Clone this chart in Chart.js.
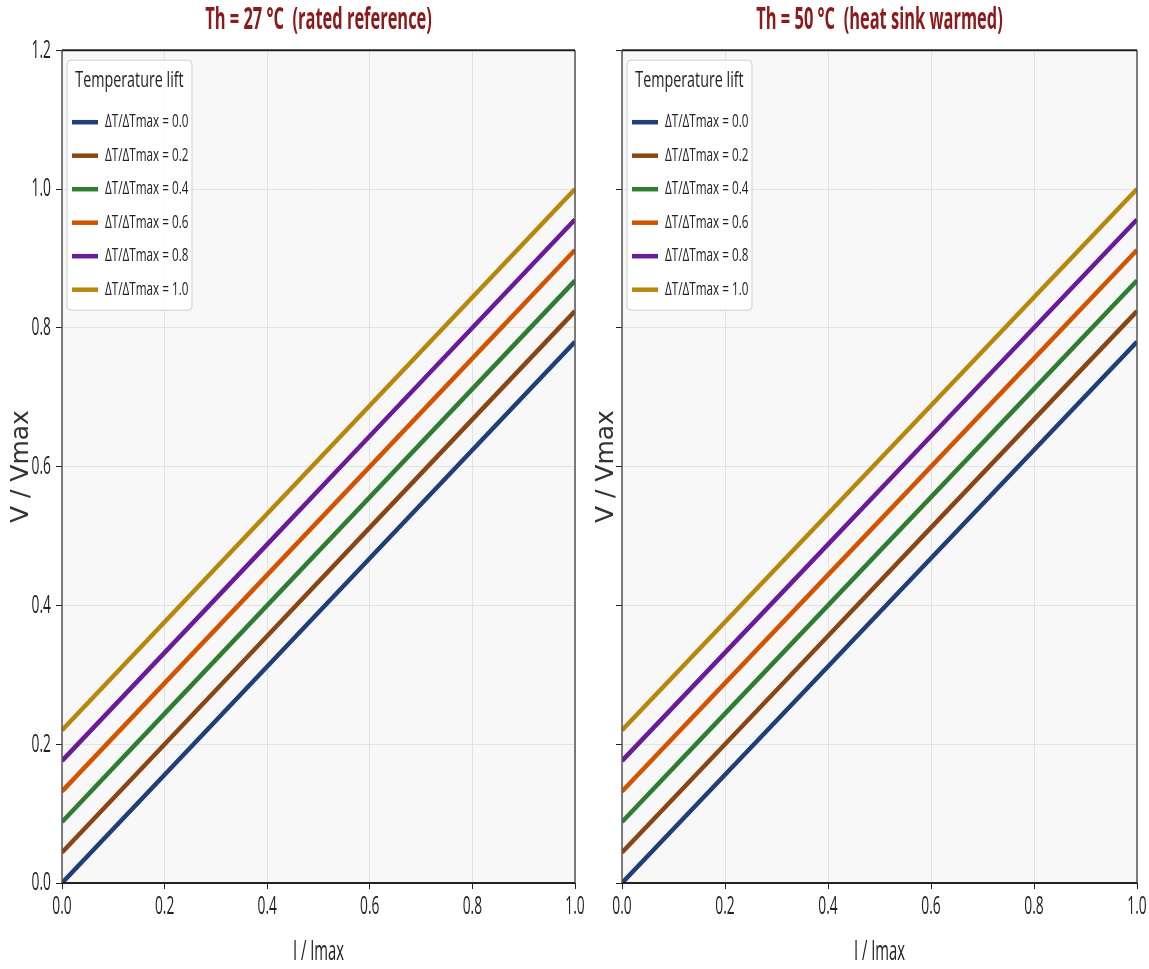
<!DOCTYPE html>
<html>
<head>
<meta charset="utf-8">
<script src="https://cdn.jsdelivr.net/npm/chart.js@4.4.1/dist/chart.umd.min.js"></script>
<style>
  html, body { margin: 0; padding: 0; background: #ffffff; overflow: hidden; }
  #wrap { position: relative; width: 1149px; height: 969px; overflow: hidden; }
  #left { position: absolute; left: 0; top: 0; width: 637px; height: 969px; }
  #right { position: absolute; left: 590px; top: 0; width: 579px; height: 969px; }
</style>
</head>
<body>
<div id="wrap">
  <div id="left"><canvas id="c1"></canvas></div>
  <div id="right"><canvas id="c2"></canvas></div>
</div>
<script>
// I / Imax sample points
const currents = [0.0, 0.2, 0.4, 0.6, 0.8, 1.0];

// V / Vmax for each temperature lift
const lift00 = [0.000, 0.156, 0.312, 0.468, 0.624, 0.780];
const lift02 = [0.044, 0.200, 0.356, 0.512, 0.668, 0.824];
const lift04 = [0.088, 0.244, 0.400, 0.556, 0.712, 0.868];
const lift06 = [0.132, 0.288, 0.444, 0.600, 0.756, 0.912];
const lift08 = [0.176, 0.332, 0.488, 0.644, 0.800, 0.956];
const lift10 = [0.220, 0.376, 0.532, 0.688, 0.844, 1.000];

const liftLabels = ["ΔT/ΔTmax = 0.0", "ΔT/ΔTmax = 0.2", "ΔT/ΔTmax = 0.4",
  "ΔT/ΔTmax = 0.6", "ΔT/ΔTmax = 0.8", "ΔT/ΔTmax = 1.0"];
const liftColors = ["#1f3e7a", "#8b4513", "#2e7d32", "#d35400", "#6a1b9a", "#b8860b"];
const panelTitles = ["Th = 27 °C  (rated reference)", "Th = 50 °C  (heat sink warmed)"];

const FONT = "'Open Sans', 'Noto Sans', sans-serif";
const TEXT_SQUEEZE = 0.53;   // the reference uses a very narrow face
const LEGEND_SQUEEZE = 0.65;

function makeDatasets() {
  const series = [lift00, lift02, lift04, lift06, lift08, lift10];
  return series.map((vals, i) => ({
    label: liftLabels[i],
    data: currents.map((x, j) => ({ x: x, y: vals[j] })),
    borderColor: liftColors[i],
    backgroundColor: liftColors[i],
    borderWidth: 4.5,
    pointRadius: 0,
    tension: 0,
    fill: false
  }));
}

// draw upright text horizontally condensed (rotated axis title left alone)
const squeeze = {
  id: "squeeze",
  beforeInit(chart) {
    const ctx = chart.ctx;
    const fill = ctx.fillText.bind(ctx);
    ctx.fillText = function (text, x, y, maxWidth) {
      const m = ctx.getTransform();
      if (Math.abs(m.b) > 1e-6) {
        if (maxWidth === undefined) fill(text, x, y); else fill(text, x, y, maxWidth);
        return;
      }
      const s = chart.$squeeze || TEXT_SQUEEZE;
      ctx.save();
      ctx.translate(x, y);
      ctx.scale(s, 1);
      if (maxWidth === undefined) fill(text, 0, 0); else fill(text, 0, 0, maxWidth / s);
      ctx.restore();
    };
  }
};

// plot background + full frame
const frame = {
  id: "frame",
  beforeDraw(chart) {
    const a = chart.chartArea, ctx = chart.ctx;
    ctx.save();
    ctx.fillStyle = "#f8f8f8";
    ctx.fillRect(a.left, a.top, a.right - a.left, a.bottom - a.top);
    ctx.restore();
  },
  afterDatasetsDraw(chart) {
    const a = chart.chartArea, ctx = chart.ctx;
    ctx.save();
    ctx.strokeStyle = "#555";
    ctx.lineWidth = 1.5;
    ctx.beginPath();
    ctx.moveTo(a.right, a.top); ctx.lineTo(a.right, a.bottom);
    ctx.moveTo(a.left, a.top); ctx.lineTo(a.left, a.bottom);
    ctx.stroke();
    ctx.strokeStyle = "#222";
    ctx.lineWidth = 2;
    ctx.beginPath();
    ctx.moveTo(a.left, a.top); ctx.lineTo(a.right, a.top);
    ctx.moveTo(a.left, a.bottom); ctx.lineTo(a.right, a.bottom);
    ctx.stroke();
    ctx.restore();
  }
};

// legend box in upper-left of the plot area
const insideLegend = {
  id: "insideLegend",
  afterDraw(chart) {
    const a = chart.chartArea, ctx = chart.ctx;
    const x0 = a.left + 5, y0 = a.top + 10, w = 125, h = 250;
    chart.$squeeze = LEGEND_SQUEEZE;
    ctx.save();
    ctx.fillStyle = "rgba(255,255,255,0.9)";
    ctx.strokeStyle = "#d0d0d0";
    ctx.lineWidth = 1;
    ctx.beginPath();
    ctx.roundRect(x0, y0, w, h, 4);
    ctx.fill();
    ctx.stroke();
    ctx.fillStyle = "#222";
    ctx.textAlign = "center";
    ctx.textBaseline = "middle";
    ctx.font = "22px " + FONT;
    ctx.fillText("Temperature lift", x0 + w / 2, y0 + 21);
    ctx.font = "18px " + FONT;
    ctx.textAlign = "left";
    chart.data.datasets.forEach((ds, i) => {
      const y = y0 + 62 + i * 33.5;
      ctx.strokeStyle = ds.borderColor;
      ctx.lineWidth = 4.5;
      ctx.beginPath();
      ctx.moveTo(x0 + 5, y); ctx.lineTo(x0 + 31, y);
      ctx.stroke();
      ctx.fillStyle = "#222";
      ctx.fillText(ds.label, x0 + 38, y);
    });
    ctx.restore();
    chart.$squeeze = null;
  }
};

function makeChart(id, title, showYLabels, yWidth, yTitlePad) {
  return new Chart(document.getElementById(id), {
    type: "line",
    data: { datasets: makeDatasets() },
    plugins: [squeeze, frame, insideLegend],
    options: {
      responsive: true,
      maintainAspectRatio: false,
      animation: false,
      layout: { padding: 0 },
      plugins: {
        legend: { display: false },
        tooltip: { enabled: false },
        title: {
          display: true,
          text: title,
          color: "#8b1a1a",
          font: { family: FONT, size: 31, weight: "bold" },
          padding: { top: 2, bottom: 11 }
        }
      },
      scales: {
        x: {
          type: "linear",
          min: 0, max: 1,
          ticks: {
            stepSize: 0.2,
            color: "#222",
            font: { family: FONT, size: 26 },
            padding: 2,
            maxRotation: 0,
            autoSkip: false,
            callback: v => v.toFixed(1)
          },
          grid: { color: "#e2e2e2", tickColor: "#222", tickLength: 6, lineWidth: 1 },
          border: { display: false },
          title: {
            display: true,
            text: "I / Imax",
            color: "#222",
            font: { family: FONT, size: 28 },
            padding: { top: 4, bottom: 0 }
          },
          afterFit(scale) { scale.height = 86; }
        },
        y: {
          type: "linear",
          min: 0, max: 1.2,
          ticks: {
            stepSize: 0.2,
            display: showYLabels,
            color: "#222",
            font: { family: FONT, size: 26 },
            padding: 5,
            callback: v => v.toFixed(1)
          },
          grid: { color: "#e2e2e2", tickColor: "#222", tickLength: 6, lineWidth: 1 },
          border: { display: false },
          title: {
            display: true,
            text: "V / Vmax",
            color: "#333",
            font: { family: "'DejaVu Sans', sans-serif", size: 25 },
            padding: { top: yTitlePad, bottom: 0 }
          },
          afterFit(scale) { scale.width = yWidth; }
        },
        // empty mirror axis so the panel title centres over the plot
        yMirror: {
          type: "linear",
          position: "right",
          display: true,
          ticks: { display: false },
          grid: { display: false, drawTicks: false },
          border: { display: false },
          afterFit(scale) { scale.width = yWidth; }
        }
      }
    }
  });
}

makeChart("c1", panelTitles[0], true, 62, 6);
makeChart("c2", panelTitles[1], false, 32, 1);
</script>
</body>
</html>
